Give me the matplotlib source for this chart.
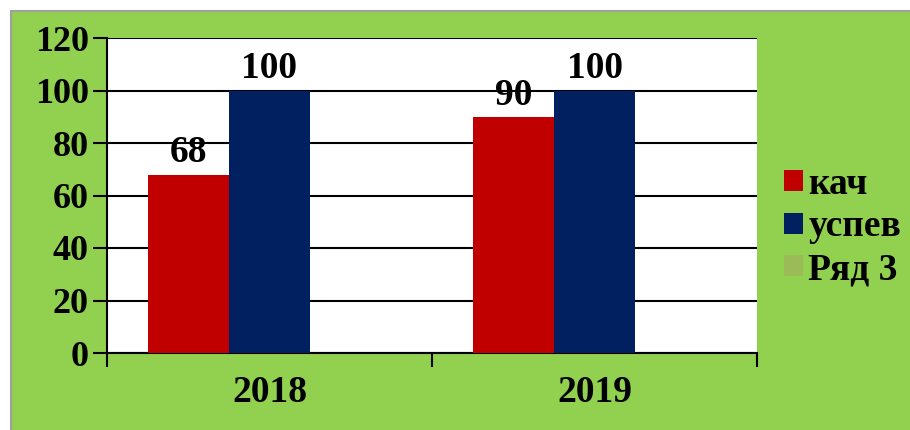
import numpy as np
import matplotlib.pyplot as plt
from matplotlib.patches import Rectangle

# data
years = ['2018', '2019']
kach = [68, 90]
uspev = [100, 100]
ryad3 = [None, None]
series_names = ['кач', 'успев', 'Ряд 3']
colors = ['#C00000', '#002060', '#9BBB59']

plt.rcParams['font.family'] = ['Liberation Serif', 'DejaVu Serif']
plt.rcParams['font.weight'] = 'bold'
FS = 27

fig = plt.figure(figsize=(9.1, 4.3), dpi=100)
fig.patch.set_facecolor('white')

# green chart area with grey border
bg = Rectangle((11 / 910, -0.01), 1.0, (419 / 430) + 0.01, transform=fig.transFigure,
               facecolor='#92D050', edgecolor='#A0A0A0', linewidth=1.5, zorder=-5)
fig.add_artist(bg)

ax = fig.add_axes([107 / 910, 77 / 430, 650 / 910, 315 / 430])
ax.set_facecolor('white')

x = np.arange(len(years))
w = 0.25
all_vals = [kach, uspev, ryad3]
for i, vals in enumerate(all_vals):
    v = [0 if a is None else a for a in vals]
    bars = ax.bar(x + (i - 1) * w, v, w, color=colors[i], label=series_names[i], zorder=3)
    if vals[0] is None:
        continue
    for b, val in zip(bars, vals):
        ax.annotate(str(val), (b.get_x() + b.get_width() / 2, b.get_height()),
                    xytext=(0, 3), textcoords='offset points', ha='center', va='bottom',
                    fontsize=FS, fontweight='bold', zorder=5)

ax.set_xlim(-0.5, 1.5)
ax.set_ylim(0, 120)
ax.set_yticks(range(0, 121, 20))
ax.yaxis.grid(True, color='black', linewidth=1.5, zorder=1)
ax.set_axisbelow(True)

ax.set_xticks([-0.5, 0.5, 1.5])
ax.set_xticklabels([])
ax.set_xticks(x, minor=True)
ax.set_xticklabels(years, minor=True)
ax.tick_params(axis='x', which='minor', length=0, pad=16, labelsize=FS)
ax.tick_params(axis='x', which='major', length=10, width=1.5, direction='out')
ax.tick_params(axis='y', length=10, width=1.5, direction='out', pad=3, labelsize=26)

for s in ['top', 'right']:
    ax.spines[s].set_visible(False)
for s in ['left', 'bottom']:
    ax.spines[s].set_linewidth(1.5)

leg = fig.legend(loc='upper left', bbox_to_anchor=(769 / 910, 1 - 152 / 430),
                 frameon=False, fontsize=FS, handlelength=0.5, handleheight=0.5,
                 handletextpad=0.15, labelspacing=0.2, borderaxespad=0)
for t in leg.get_texts():
    t.set_fontweight('bold')

fig.savefig('out.png', dpi=100)
